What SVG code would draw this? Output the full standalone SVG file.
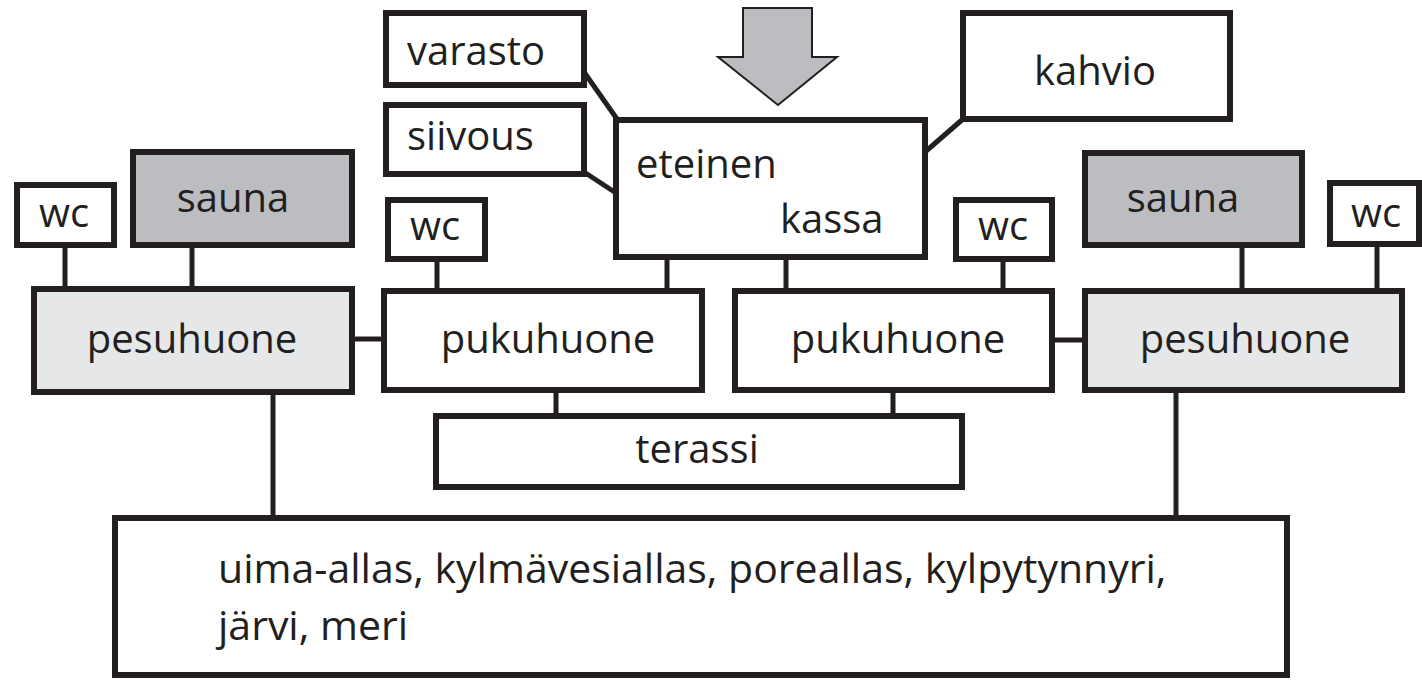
<svg xmlns="http://www.w3.org/2000/svg" width="1422" height="680" viewBox="0 0 1422 680">
<style>
.box{fill:#ffffff;stroke:#231f20;stroke-width:6}
.dark{fill:#bcbdc0}
.light{fill:#e6e7e8}
.c{stroke:#231f20;stroke-width:5;fill:none}
text{font-family:"Open Sans","Noto Sans",sans-serif;font-size:40px;fill:#231f20}
.m{text-anchor:middle}
.big{font-size:41px}
</style>
<rect width="1422" height="680" fill="#ffffff"/>
<g id="connectors">
<line class="c" x1="65" y1="245" x2="65" y2="291"/>
<line class="c" x1="192" y1="245" x2="192" y2="291"/>
<line class="c" x1="352" y1="339" x2="384" y2="339"/>
<line class="c" x1="437" y1="259" x2="437" y2="291"/>
<line class="c" x1="667" y1="257" x2="667" y2="291"/>
<line class="c" x1="786" y1="257" x2="786" y2="291"/>
<line class="c" x1="1003" y1="259" x2="1003" y2="291"/>
<line class="c" x1="1052" y1="340" x2="1085" y2="340"/>
<line class="c" x1="1242" y1="245" x2="1242" y2="291"/>
<line class="c" x1="1377" y1="244" x2="1377" y2="291"/>
<line class="c" x1="556" y1="390" x2="556" y2="416"/>
<line class="c" x1="893" y1="390" x2="893" y2="416"/>
<line class="c" x1="273" y1="390" x2="273" y2="518"/>
<line class="c" x1="1176" y1="390" x2="1176" y2="518"/>
<line class="c" x1="584" y1="72" x2="617" y2="119"/>
<line class="c" x1="584" y1="172" x2="616" y2="193"/>
<line class="c" x1="963" y1="119" x2="925" y2="152"/>
</g>
<g id="entry-arrow">
<polygon points="743,8 812,8 812,57 837,57 778,105 718,57 743,57" fill="#bcbdc0" stroke="#231f20" stroke-width="2"/>
</g>
<g id="varasto"><rect class="box" x="386" y="13" width="198" height="72"/><text x="407" y="65">varasto</text></g>
<g id="siivous"><rect class="box" x="386" y="105" width="198" height="69"/><text x="407" y="150">siivous</text></g>
<g id="eteinen"><rect class="box" x="616" y="120" width="309" height="137"/><text x="636" y="178">eteinen</text><text x="780" y="233">kassa</text></g>
<g id="kahvio"><rect class="box" x="963" y="13" width="267" height="106"/><text class="m" x="1095" y="85">kahvio</text></g>
<g id="wc-left"><rect class="box" x="17" y="185" width="97" height="60"/><text class="m" x="64" y="227">wc</text></g>
<g id="sauna-left"><rect class="box dark" x="133" y="152" width="219" height="93"/><text class="m" x="233" y="212">sauna</text></g>
<g id="wc-midleft"><rect class="box" x="388" y="200" width="97" height="59"/><text class="m" x="435" y="240">wc</text></g>
<g id="wc-midright"><rect class="box" x="956" y="200" width="96" height="59"/><text class="m" x="1003" y="240">wc</text></g>
<g id="sauna-right"><rect class="box dark" x="1085" y="153" width="217" height="92"/><text class="m" x="1183" y="212">sauna</text></g>
<g id="wc-right"><rect class="box" x="1330" y="183" width="89" height="61"/><text class="m" x="1376" y="227">wc</text></g>
<g id="pesuhuone-left"><rect class="box light" x="34" y="289" width="318" height="103"/><text class="m" x="192" y="353">pesuhuone</text></g>
<g id="pukuhuone-left"><rect class="box" x="384" y="291" width="318" height="99"/><text class="m" x="548" y="353">pukuhuone</text></g>
<g id="pukuhuone-right"><rect class="box" x="735" y="291" width="317" height="99"/><text class="m" x="898" y="353">pukuhuone</text></g>
<g id="pesuhuone-right"><rect class="box light" x="1085" y="291" width="317" height="99"/><text class="m" x="1245" y="353">pesuhuone</text></g>
<g id="terassi"><rect class="box" x="436" y="416" width="526" height="71"/><text class="m" x="697" y="463">terassi</text></g>
<g id="altaat"><rect class="box" x="115" y="518" width="1172" height="157"/><text class="big" x="218" y="583">uima-allas, kylmävesiallas, poreallas, kylpytynnyri,</text><text class="big" x="218" y="640">järvi, meri</text></g>
</svg>
